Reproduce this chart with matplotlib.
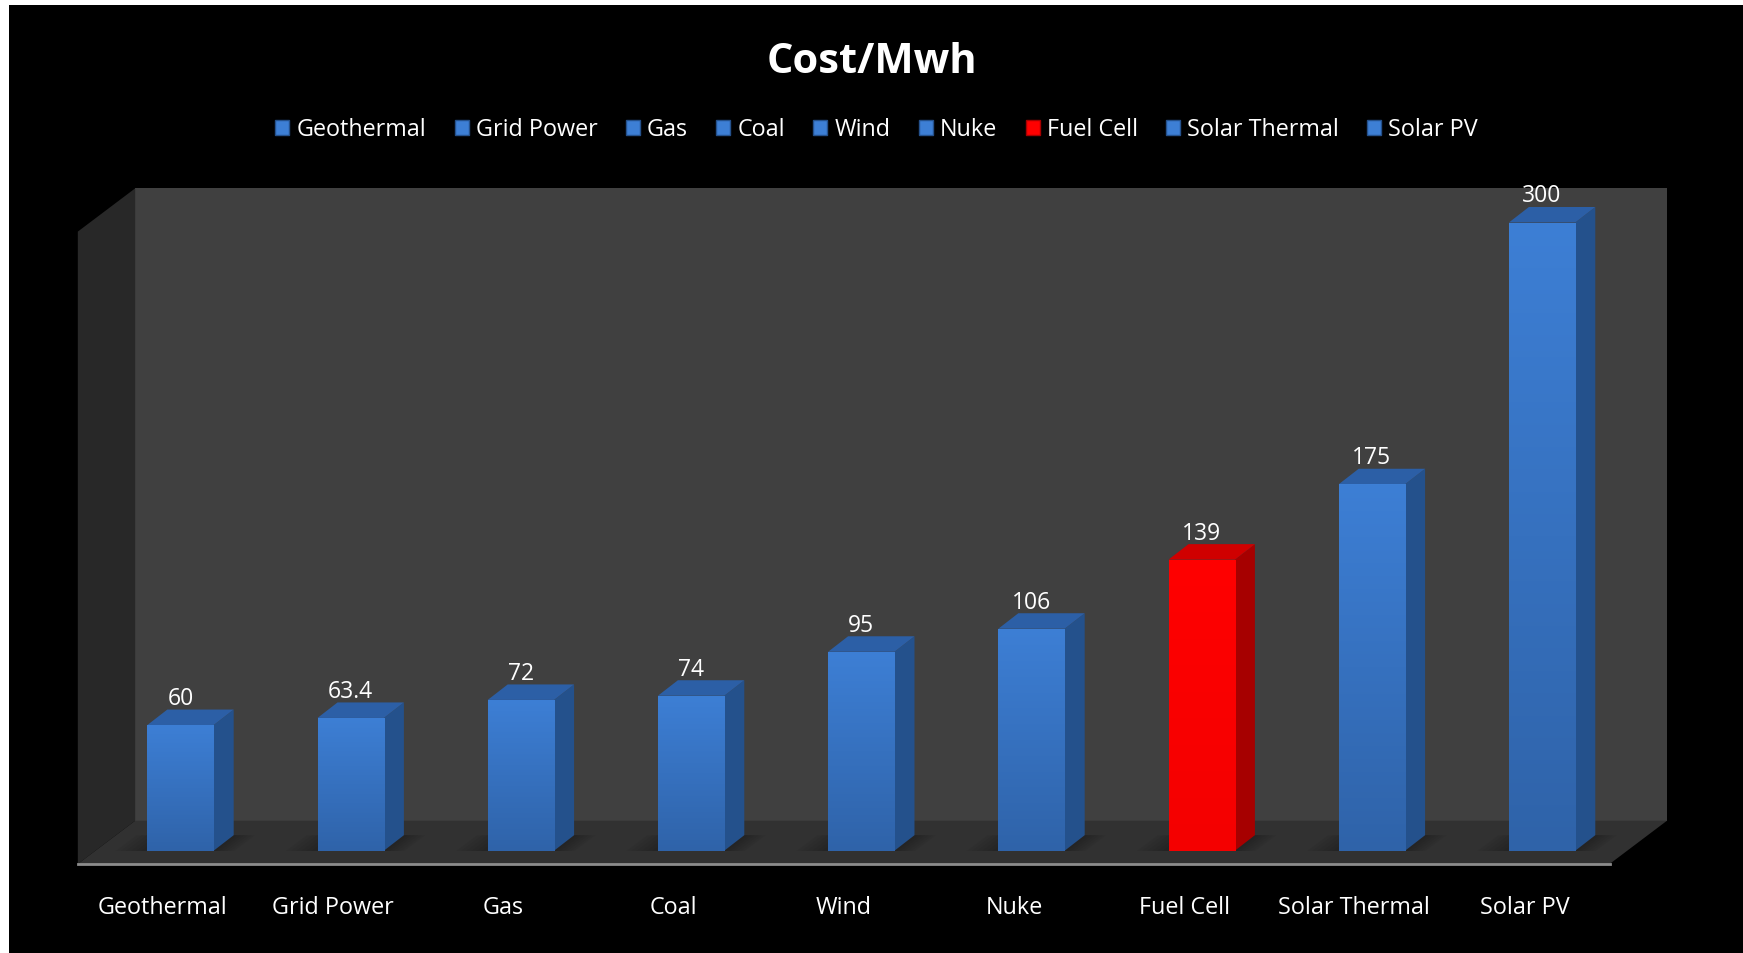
import numpy as np
import matplotlib
matplotlib.use('Agg')
import matplotlib.pyplot as plt
from matplotlib.patches import Polygon, Rectangle, Patch
from matplotlib.colors import LinearSegmentedColormap

plt.rcParams['font.family'] = ['Open Sans', 'DejaVu Sans']

# Datos del gráfico
categorias = ['Geothermal', 'Grid Power', 'Gas', 'Coal', 'Wind', 'Nuke',
              'Fuel Cell', 'Solar Thermal', 'Solar PV']
costos = [60, 63.4, 72, 74, 95, 106, 139, 175, 300]
etiquetas = ['60', '63.4', '72', '74', '95', '106', '139', '175', '300']
destacado = 'Fuel Cell'

# Colores (frente arriba, frente abajo, lado, tapa)
azul = ('#3d7fd5', '#2f63a9', '#24518c', '#2c5fa6')
rojo = ('#ff0000', '#f40000', '#a60000', '#d00000')

W, H = 1743, 954
fig = plt.figure(figsize=(W / 100, H / 100), dpi=100, facecolor='black')
ax = fig.add_axes([95.4 / W, 102.3 / H, 1531.8 / W, 628.2 / H])
ax.set_xlim(-0.5, 8.5)
ax.set_ylim(0, 300)
ax.axis('off')

# pixeles por unidad de datos, para la profundidad "3D"
ppx = ax.bbox.width / 9
ppy = ax.bbox.height / 300


def desplaza(x, y, dx, dy):
    return (x + dx / ppx, y + dy / ppy)


# caja: frente y fondo en pixeles
fr = (-17.6, -13.3)
fo = (39.8, 30.0)
tope = 302

pared = Polygon([desplaza(-0.5, 0, *fo), desplaza(8.5, 0, *fo),
                 desplaza(8.5, tope, *fo), desplaza(-0.5, tope, *fo)],
                closed=True, facecolor='#404040', edgecolor='none', zorder=1, clip_on=False)
ax.add_patch(pared)
lateral = Polygon([desplaza(-0.5, 0, *fr), desplaza(-0.5, 0, *fo),
                   desplaza(-0.5, tope, *fo), desplaza(-0.5, tope, *fr)],
                  closed=True, facecolor='#282828', edgecolor='none', zorder=1, clip_on=False)
ax.add_patch(lateral)
piso = Polygon([desplaza(-0.5, 0, *fr), desplaza(8.5, 0, *fr),
                desplaza(8.5, 0, *fo), desplaza(-0.5, 0, *fo)],
               closed=True, facecolor='#313131', edgecolor='none', zorder=2, clip_on=False)
ax.add_patch(piso)
ax.plot([desplaza(-0.5, 0, *fr)[0], desplaza(8.5, 0, *fr)[0]],
        [desplaza(-0.5, 0, *fr)[1]] * 2, color='#8c8c8c', lw=2, zorder=3, clip_on=False)

# barras
ancho = 0.39
prof = (20, 15.5)
x = np.arange(len(categorias))
barras = ax.bar(x, costos, width=ancho, color='none', edgecolor='none', zorder=6)
grad = np.linspace(1, 0, 256).reshape(-1, 1)

for i, (b, v) in enumerate(zip(barras, costos)):
    c = rojo if categorias[i] == destacado else azul
    x0, x1 = b.get_x(), b.get_x() + b.get_width()
    # sombra suave en el piso
    for k in range(6):
        sx = 0.18 - 0.03 * k
        sombra = Polygon([desplaza(x0 - sx, 0, -2, -1), desplaza(x1 + sx * 0.7, 0, -2, -1),
                          desplaza(x1 + sx * 0.7, 0, *prof), desplaza(x0 - sx, 0, *prof)],
                         closed=True, facecolor='black', alpha=0.045, edgecolor='none', zorder=4)
        ax.add_patch(sombra)
    lado = Polygon([(x1, 0), desplaza(x1, 0, *prof), desplaza(x1, v, *prof), (x1, v)],
                   closed=True, facecolor=c[2], edgecolor='none', zorder=5, clip_on=False)
    ax.add_patch(lado)
    tapa = Polygon([(x0, v), (x1, v), desplaza(x1, v, *prof), desplaza(x0, v, *prof)],
                   closed=True, facecolor=c[3], edgecolor='none', zorder=5, clip_on=False)
    ax.add_patch(tapa)
    cmap = LinearSegmentedColormap.from_list('g%d' % i, [c[1], c[0]])
    im = ax.imshow(grad, extent=[x0, x1, 0, v], cmap=cmap, aspect='auto', zorder=6,
                   interpolation='bilinear')
    im.set_clip_path(b)
    ax.annotate(etiquetas[i], (b.get_x() + b.get_width() / 2, v), xytext=(0, 21),
                textcoords='offset pixels', ha='center', va='baseline',
                color='white', fontsize=16.5, zorder=8)
    px, py = desplaza(i, 0, fr[0], -62)
    ax.text(px, py, categorias[i], ha='center', va='baseline', color='white', fontsize=16.8)

ax.set_xlim(-0.5, 8.5)
ax.set_ylim(0, 300)

# leyenda
manejadores = [Patch(facecolor=(rojo if c == destacado else azul)[0],
                     edgecolor=(rojo if c == destacado else azul)[2], label=c)
               for c in categorias]
fig.legend(handles=manejadores, loc='center', bbox_to_anchor=(0.503, 1 - 130.5 / H), ncol=9,
           frameon=False, fontsize=16.8, labelcolor='white', handlelength=0.6,
           handleheight=0.6, handletextpad=0.3, columnspacing=1.22)

fig.text(0.5, 1 - 73 / H, 'Cost/Mwh', ha='center', va='baseline', color='white',
         fontsize=30, fontweight='bold')

# borde blanco del recorte original
fig.add_artist(Rectangle((0, 0), 9 / W, 1, transform=fig.transFigure,
                         facecolor='white', edgecolor='none'))
fig.add_artist(Rectangle((0, 1 - 6 / H), 1, 6 / H, transform=fig.transFigure,
                         facecolor='white', edgecolor='none'))

fig.savefig('out.png', dpi=100, facecolor='black')
